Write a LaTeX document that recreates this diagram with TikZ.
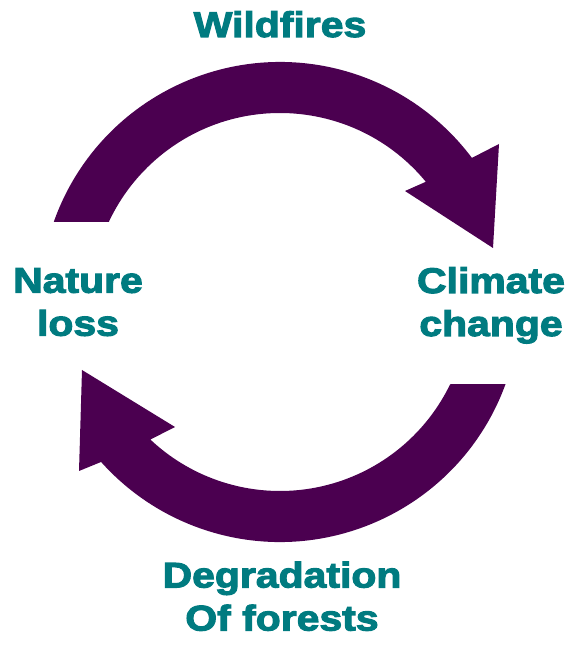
\documentclass[tikz,border=0pt]{standalone}
\usepackage{fontspec}
\usepackage{xcolor}
\usepackage{tikz}
\newfontfamily\loopfont{Liberation Sans}[FakeStretch=1.15,BoldFeatures={FakeBold=3}]
\definecolor{loopPurple}{RGB}{75,0,80}
\definecolor{labelTeal}{RGB}{0,123,128}

\begin{document}
\begin{tikzpicture}[x=1pt,y=1pt,
  looparrow/.style={fill=loopPurple},
  looplabel/.style={text=labelTeal, align=center, inner sep=0pt, anchor=north,
    font=\loopfont\bfseries\fontsize{35.6}{43}\selectfont}]
\useasboundingbox (0,0) rectangle (576,645);
\coordinate (hub) at (280,343);

% Arrows
\fill[looparrow] ([shift={(160.5:240)}]hub) arc[start angle=160.5, end angle=36.9, radius=240]
  -- (499,501) -- (493,397) -- (405,454)
  -- ([shift={(39.5:189)}]hub) arc[start angle=39.5, end angle=154.9, radius=189] -- cycle;
\fill[looparrow] ([shift={(-20:240)}]hub) arc[start angle=-20, end angle=-138.2, radius=240]
  -- (79,174) -- (82,275) -- (175,218)
  -- ([shift={(-133.3:189)}]hub) arc[start angle=-133.3, end angle=-25.8, radius=189] -- cycle;

% Labels
\node[looplabel] (wild) at (280,634) {Wildfires};
\node[looplabel] (nature) at (78,377) {Nature\\loss};
\node[looplabel] (climate) at (491,378) {Climate\\change};
\node[looplabel] (degr) at (282,83.5) {Degradation\\Of forests};
\end{tikzpicture}
\end{document}
